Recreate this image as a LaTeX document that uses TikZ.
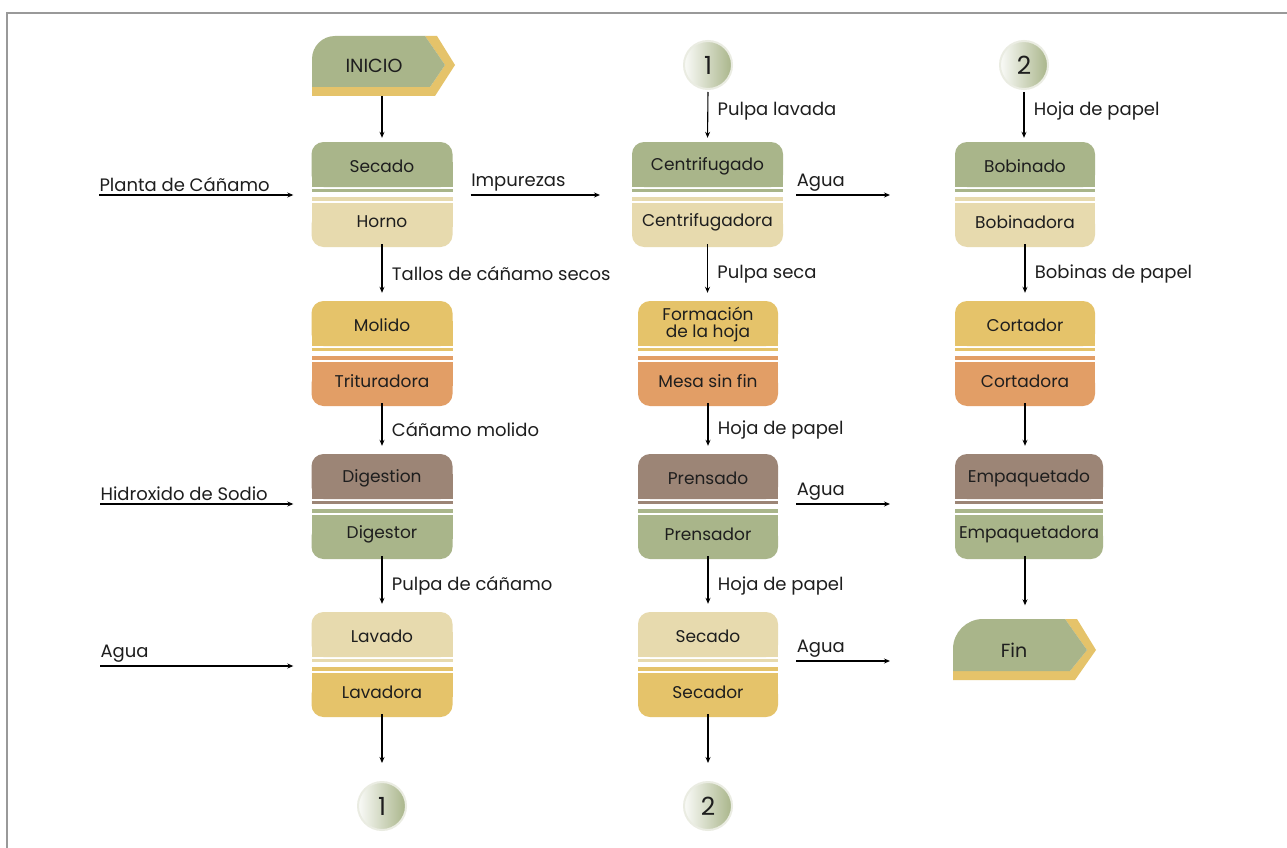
\documentclass[tikz,border=0pt]{standalone}
\usepackage{fontspec}
\setmainfont{Poppins}
\usepackage{tikz}
\usetikzlibrary{arrows.meta, positioning, calc}
\definecolor{hgreen}{RGB}{169, 181, 138}
\definecolor{hbeige}{RGB}{231, 218, 174}
\definecolor{hgold}{RGB}{229, 195, 106}
\definecolor{horange}{RGB}{226, 158, 102}
\definecolor{hbrown}{RGB}{156, 133, 118}
\definecolor{hframe}{RGB}{153, 153, 153}
\definecolor{htext}{RGB}{30, 30, 30}

\begin{document}
\begin{tikzpicture}[x=1pt, y=1pt,
    every node/.style={font=\fontsize{18}{20}\selectfont, text=htext},
    stage/.style={minimum height=44pt, inner sep=0pt, align=center, font=\fontsize{17}{17}\selectfont},
    term/.style={inner sep=0pt, font=\fontsize{19}{20}\selectfont},
    arr/.style={-{Stealth[length=6pt, width=5pt]}, line width=1.1pt},
    conn/.style={circle, minimum size=48pt, inner sep=0pt, left color=white!94!hgreen, right color=hgreen,
        draw=hgreen!25, line width=2pt, font=\fontsize{25}{25}\selectfont},
]
    \useasboundingbox (0,0) rectangle (1287,-848);
    \fill[white] (0,0) rectangle (1287,-848);
    % Frame
    \draw[hframe, line width=2pt] (7,-848) -- (7,-13) -- (1287,-13);

    % Start and end shapes
    \fill[hgold] (312,-96) -- (435,-96) -- (455,-65) -- (437,-36) -- (425,-36) -- (445,-65) -- (430,-87) -- (312,-87) -- cycle;
    \fill[hgreen] (312,-87) -- (312,-59) arc[start angle=180, end angle=90, radius=23] -- (425,-36) -- (445,-65) -- (430,-87) -- cycle;
    \node[term, minimum width=124pt, minimum height=60pt] (inicio) at (374,-66) {INICIO};
    \fill[hgold] (953,-680) -- (1075,-680) -- (1096,-650) -- (1077,-619) -- (1065,-619) -- (1087,-650) -- (1070,-671) -- (953,-671) -- cycle;
    \fill[hgreen] (953,-671) -- (953,-649) arc[start angle=180, end angle=90, radius=30] -- (1065,-619) -- (1087,-650) -- (1070,-671) -- cycle;
    \node[term, minimum width=122pt, minimum height=61pt] (fin) at (1014,-650) {Fin};

    % Process boxes: name/x/top/width/top colour/bottom colour/step/equipment
    \foreach \nm/\x/\t/\w/\ca/\cb/\ta/\tb in {
        sec/382/142/141/hgreen/hbeige/Secado/Horno,
        mol/382/301/141/hgold/horange/Molido/Trituradora,
        dig/382/454/141/hbrown/hgreen/Digestion/Digestor,
        lav/382/612/141/hbeige/hgold/Lavado/Lavadora,
        cen/707.5/142/151/hgreen/hbeige/Centrifugado/Centrifugadora,
        form/708/301/140/hgold/horange/{Formación\\de la hoja}/Mesa sin fin,
        pren/708/454/140/hbrown/hgreen/Prensado/Prensador,
        sed/708/612/140/hbeige/hgold/Secado/Secador,
        bob/1025/142/140/hgreen/hbeige/Bobinado/Bobinadora,
        cort/1025/301/140/hgold/horange/Cortador/Cortadora,
        emp/1029/454/148/hbrown/hgreen/Empaquetado/Empaquetadora%
    }{
        \fill[\ca, rounded corners=12pt] (\x-\w/2,-\t) rectangle (\x+\w/2,-\t-45);
        \fill[\ca] (\x-\w/2,-\t-20) rectangle (\x+\w/2,-\t-45);
        \fill[\ca] (\x-\w/2,-\t-47) rectangle (\x+\w/2,-\t-50);
        \fill[\cb] (\x-\w/2,-\t-55) rectangle (\x+\w/2,-\t-59);
        \fill[\cb] (\x-\w/2,-\t-61) rectangle (\x+\w/2,-\t-85);
        \fill[\cb, rounded corners=12pt] (\x-\w/2,-\t-70) rectangle (\x+\w/2,-\t-105);
        \node[stage, minimum width=\w, minimum height=48pt] (\nm-t) at (\x,-\t-24) {\ta};
        \node[stage, minimum width=\w, minimum height=50pt] (\nm-b) at (\x,-\t-80) {\tb};
    }

    % Connectors
    \node[conn] (c1a) at (708,-65) {1};
    \node[conn] (c2a) at (1024,-65) {2};
    \node[conn] (c1b) at (382,-806) {1};
    \node[conn] (c2b) at (708,-806) {2};

    % Main flow
    \draw[arr, shorten >=4pt] (sec-t.north |- inicio.south) -- (sec-t.north);
    \foreach \a/\b/\lbl in {sec/mol/{Tallos de cáñamo secos}, mol/dig/{Cáñamo molido}, dig/lav/{Pulpa de cáñamo},
        cen/form/{Pulpa seca}, form/pren/{Hoja de papel}, pren/sed/{Hoja de papel},
        bob/cort/{Bobinas de papel}, cort/emp/{}} {
        \draw[arr, shorten <=-3pt, shorten >=8pt] (\a-b.south) -- (\a-b.south |- \b-t.north) node[midway, right=6pt] {\lbl};
    }
    \draw[arr, shorten <=-3pt, shorten >=14pt] (cort-b.south |- emp-b.south) -- (cort-b.south |- fin.north);
    \draw[arr, shorten <=-3pt, shorten >=18pt] (lav-b.south) -- (c1b.north);
    \draw[arr, shorten <=-3pt, shorten >=18pt] (sed-b.south) -- (c2b.north);
    \draw[arr, shorten <=2pt, shorten >=4pt] (c1a.south) -- (cen-t.north) node[pos=0.4, right=6pt] {Pulpa lavada};
    \draw[arr, shorten <=2pt, shorten >=4pt] (c2a.south) -- (c2a.south |- bob-t.north) node[pos=0.4, right=6pt] {Hoja de papel};

    % Inputs
    \coordinate (in1) at (99,-195);
    \coordinate (in2) at (100,-504);
    \coordinate (in3) at (100,-666);
    \draw[arr, shorten >=18pt] (in1) node[above right, inner sep=3pt, xshift=-3pt] {Planta de Cáñamo} -- (in1 -| sec-t.west);
    \draw[arr, shorten >=18pt] (in2) node[above right, inner sep=3pt, xshift=-3pt] {Hidroxido de Sodio} -- (in2 -| dig-t.west);
    \draw[arr, shorten >=18pt] (in3) node[above right, inner sep=3pt, xshift=-3pt] {Agua} -- (in3 -| lav-t.west);

    % Outputs
    \coordinate (out1) at (600,-195);
    \coordinate (out2) at (890,-195);
    \coordinate (out3) at (890,-504);
    \coordinate (out4) at (890,-661);
    \draw[arr, shorten <=18pt] (sec-t.east |- out1) node[above right, inner sep=3pt, xshift=15pt] {Impurezas} -- (out1);
    \draw[arr, shorten <=13pt] (cen-t.east |- out2) node[above right, inner sep=3pt, xshift=10pt] {Agua} -- (out2);
    \draw[arr, shorten <=18pt] (pren-t.east |- out3) node[above right, inner sep=3pt, xshift=15pt] {Agua} -- (out3);
    \draw[arr, shorten <=18pt] (sed-t.east |- out4) node[above right, inner sep=3pt, xshift=15pt] {Agua} -- (out4);
\end{tikzpicture}
\end{document}
